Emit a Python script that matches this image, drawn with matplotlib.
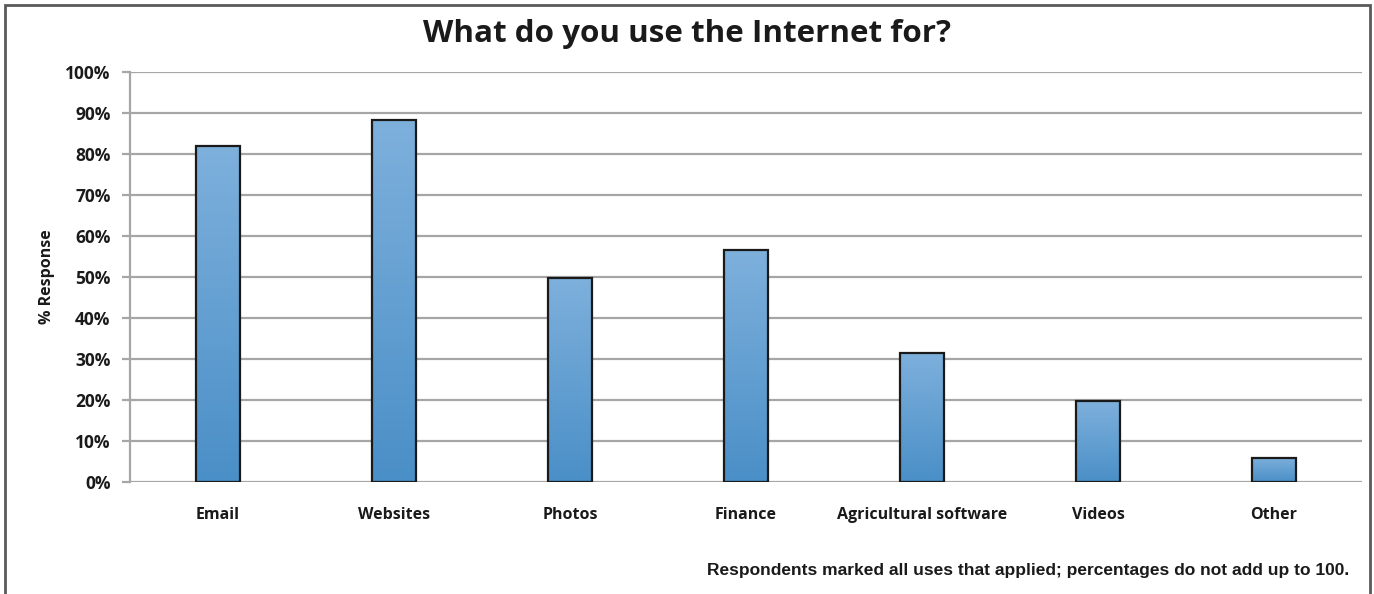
#!/usr/bin/env python3
"""Bar chart: what respondents use the Internet for."""

import matplotlib
matplotlib.use("Agg")
import matplotlib.pyplot as plt
import numpy as np
from matplotlib.colors import LinearSegmentedColormap
from matplotlib.patches import Rectangle
from matplotlib.ticker import FuncFormatter, MultipleLocator

categories = ["Email", "Websites", "Photos", "Finance", "Agricultural software", "Videos", "Other"]
response_pct = [82, 88.2, 49.7, 56.5, 31.5, 19.7, 5.9]

title = "What do you use the Internet for?"
ylabel = "% Response"
footnote = "Respondents marked all uses that applied; percentages do not add up to 100."

fig = plt.figure(figsize=(13.74, 5.94), dpi=100)
ax = fig.add_axes([0.0946, 0.1886, 0.8967, 0.6902])

x = np.arange(len(categories))
bars = ax.bar(x, response_pct, width=0.25, facecolor="none", edgecolor="#1a1a1a",
              linewidth=1.6, zorder=3)

# vertical gradient fill, light on top, darker at the bottom
cmap = LinearSegmentedColormap.from_list("bar", ["#4a8fc7", "#7eb0dc"])
grad = np.linspace(0, 1, 256).reshape(-1, 1)
for b in bars:
    bx, by = b.get_x(), b.get_y()
    bw, bh = b.get_width(), b.get_height()
    im = ax.imshow(grad, cmap=cmap, origin="lower", aspect="auto",
                   extent=(bx, bx + bw, by, by + bh), zorder=2)
    im.set_clip_path(b)

ax.set_xlim(-0.5, len(categories) - 0.5)
ax.set_ylim(0, 100)
ax.yaxis.set_major_locator(MultipleLocator(10))
ax.yaxis.set_major_formatter(FuncFormatter(lambda v, _: f"{v:.0f}%"))
ax.set_xticks(x)
ax.set_xticklabels(categories)

ax.grid(axis="y", color="#a6a6a6", linewidth=1.6, zorder=0)
for side in ("top", "right", "bottom"):
    ax.spines[side].set_visible(False)
ax.spines["left"].set_color("#a6a6a6")
ax.spines["left"].set_linewidth(1.6)
ax.tick_params(axis="y", length=6, width=1.6, color="#a6a6a6", pad=8)
ax.tick_params(axis="x", length=0, pad=18)

for lbl in ax.get_yticklabels():
    lbl.set_fontsize(12.5)
for lbl in ax.get_xticklabels():
    lbl.set_fontsize(11.5)
for lbl in ax.get_yticklabels() + ax.get_xticklabels():
    lbl.set_fontfamily("Open Sans")
    lbl.set_fontweight("bold")
    lbl.set_color("#1a1a1a")

ax.set_ylabel(ylabel, family="Open Sans", weight="bold", fontsize=11.5, labelpad=7,
              color="#1a1a1a")

fig.text(0.5, 0.943, title, ha="center", va="center", family="Open Sans",
         weight="bold", fontsize=22.6, color="#1a1a1a")
fig.text(0.982, 0.04, footnote, ha="right", va="center", family="Liberation Sans",
         weight="bold", fontsize=12.5, color="#1a1a1a")

# outer frame, bottom edge runs off the image
fig.patches.append(Rectangle((0.004, -0.05), 0.993, 1.041, transform=fig.transFigure,
                             fill=False, edgecolor="#5a5a5a", linewidth=2))

fig.savefig("out.png", dpi=100)
